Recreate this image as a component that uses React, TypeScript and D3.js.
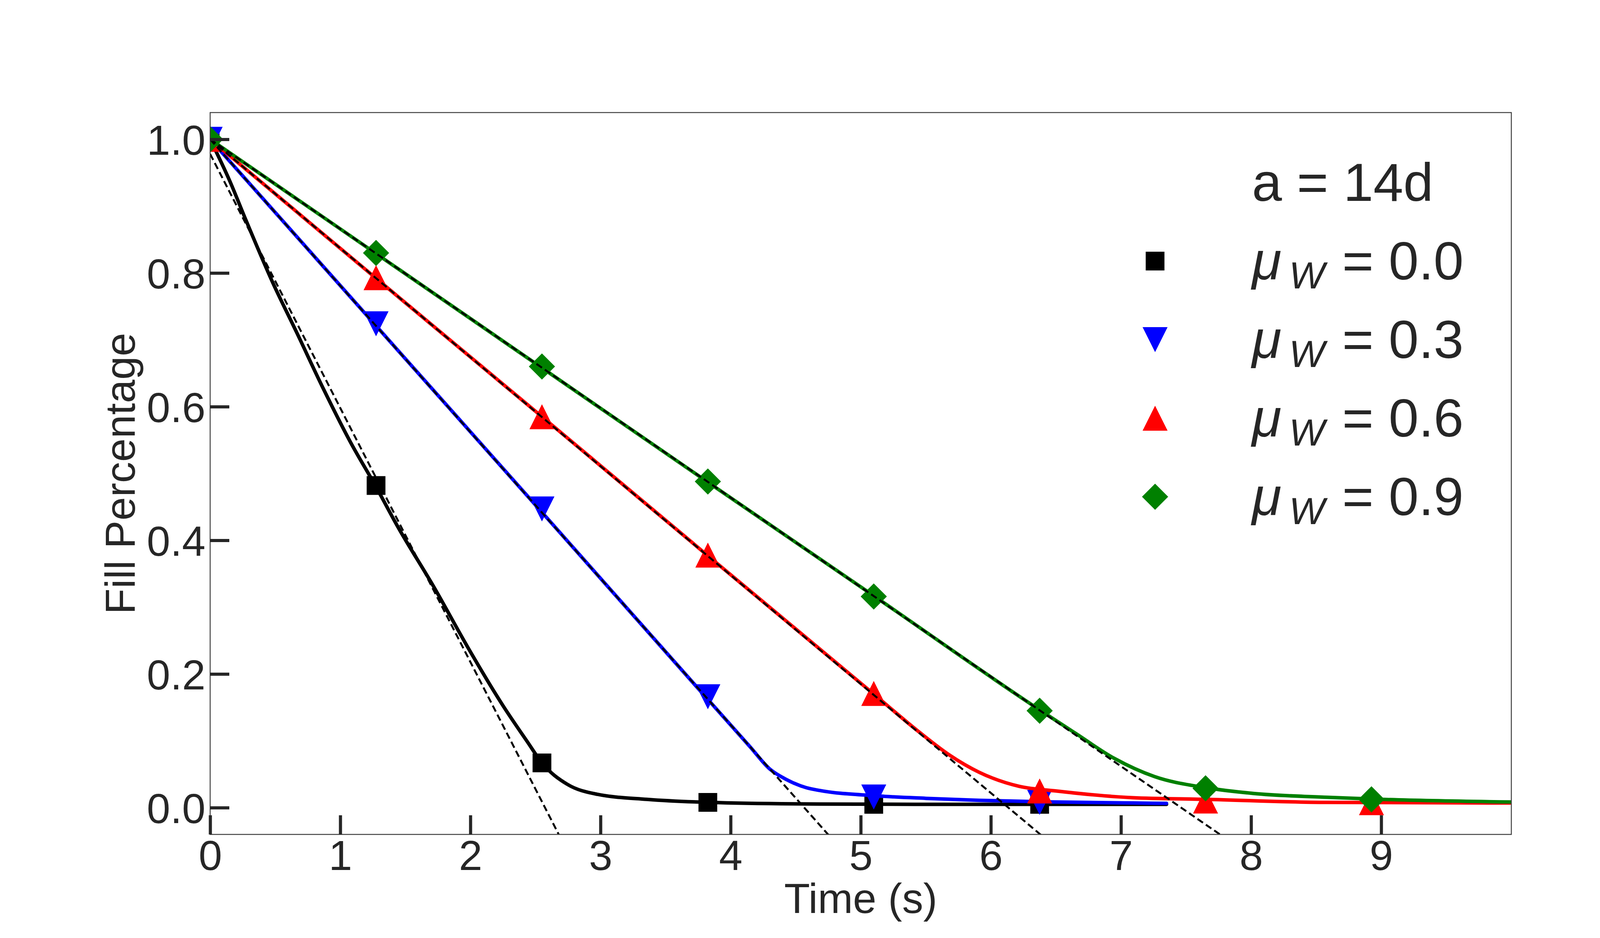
import React, { useEffect, useRef } from 'react'
import * as d3 from 'd3'

// 时间 (s) 与填充率
const blackT = [0, 0.15, 0.275, 0.48, 0.665, 0.872, 1.078, 1.275, 1.446, 1.72, 1.98, 2.256, 2.44, 2.55, 2.745, 2.977, 3.357, 3.83, 4.686, 5.5, 6.4, 7.35]
const blackV = [1.0, 0.938, 0.879, 0.786, 0.711, 0.626, 0.547, 0.48, 0.419, 0.33, 0.24, 0.151, 0.098, 0.067, 0.035, 0.02, 0.0125, 0.008, 0.0055, 0.005, 0.005, 0.005]

const blueT = [0, 1.275, 2.55, 3.825, 4.15, 4.3, 4.43, 4.58, 4.686, 5.1, 5.5, 5.91, 6.5, 7.09, 7.35]
const blueV = [1.0, 0.721, 0.442, 0.162, 0.091, 0.058, 0.042, 0.03, 0.0257, 0.018, 0.014, 0.011, 0.0085, 0.007, 0.0065]

const redT = [0, 1.275, 2.55, 3.825, 5.1, 5.45, 5.68, 5.91, 6.217, 6.5, 7.087, 7.65, 8.587, 10]
const redV = [1.0, 0.792, 0.585, 0.377, 0.17, 0.113, 0.079, 0.053, 0.032, 0.025, 0.015, 0.0125, 0.0079, 0.007]

const greenT = [0, 1.275, 2.55, 3.825, 5.1, 6.385, 6.645, 6.952, 7.258, 7.65, 8.02, 8.587, 9.0, 10]
const greenV = [1.0, 0.829, 0.658, 0.487, 0.317, 0.145, 0.112, 0.0734, 0.0465, 0.03, 0.0213, 0.0155, 0.0125, 0.0085]

// 标记点
const markerT = [0, 1.275, 2.55, 3.825, 5.1, 6.375, 7.65, 8.925]
const blackMarkers = [1.0, 0.482, 0.067, 0.008, 0.005, 0.005]
const blueMarkers = [1.0, 0.724, 0.447, 0.166, 0.016, 0.008]
const redMarkers = [1.0, 0.793, 0.585, 0.378, 0.171, 0.025, 0.01, 0.0075]
const greenMarkers = [1.0, 0.83, 0.66, 0.488, 0.316, 0.145, 0.029, 0.0125]

// 线性拟合（虚线）
const fitIntercept = [0.978, 1.0, 1.0, 1.0]
const fitSlope = [-0.38, -0.219, -0.163, -0.134]

const muLabels = ['0.0', '0.3', '0.6', '0.9']
const colors = ['#000000', '#0000ff', '#ff0000', '#008000']
const markerKinds = ['square', 'triDown', 'triUp', 'diamond']

const xTicks = [0, 1, 2, 3, 4, 5, 6, 7, 8, 9]
const yTicks = [0, 0.2, 0.4, 0.6, 0.8, 1.0]

const FONT = "'Liberation Sans', Arial, sans-serif"
const TEXT = '#262626'

const markerPath = (kind: string) => {
    if (kind === 'square') { const s = 48; return `M${-s / 2},${-s / 2}h${s}v${s}h${-s}Z` }
    if (kind === 'triDown') { const w = 64, h = 64; return `M0,${h / 2}L${-w / 2},${-h / 2}L${w / 2},${-h / 2}Z` }
    if (kind === 'triUp') { const w = 64, h = 64; return `M0,${-h / 2}L${-w / 2},${h / 2}L${w / 2},${h / 2}Z` }
    const d = 67
    return `M0,${-d / 2}L${d / 2},0L0,${d / 2}L${-d / 2},0Z`
}

const App = () => {
    const ref = useRef<SVGSVGElement>(null)

    useEffect(() => {
        document.body.style.margin = '0'
        const W = 4300, H = 2400
        const left = 538, right = 3869, top = 288, bottom = 2135

        const svg = d3.select(ref.current)
        svg.selectAll('*').remove()
        svg.attr('width', W).attr('height', H).style('background', '#ffffff')

        const x = d3.scaleLinear().domain([0, 10]).range([left, right])
        const y = d3.scaleLinear().domain([-0.04, 1.04]).range([bottom, top])

        svg.append('defs').append('clipPath').attr('id', 'plotClip')
            .append('rect').attr('x', left).attr('y', top).attr('width', right - left).attr('height', bottom - top)

        const plot = svg.append('g').attr('clip-path', 'url(#plotClip)')

        const seriesT = [blackT, blueT, redT, greenT]
        const seriesV = [blackV, blueV, redV, greenV]
        const seriesM = [blackMarkers, blueMarkers, redMarkers, greenMarkers]

        const line = d3.line<[number, number]>()
            .x(d => x(d[0]))
            .y(d => y(d[1]))
            .curve(d3.curveMonotoneX)

        // 实线 + 标记
        seriesT.forEach((ts, i) => {
            const pts: [number, number][] = ts.map((t, j) => [t, seriesV[i][j]])
            plot.append('path')
                .attr('d', line(pts) ?? '')
                .attr('fill', 'none')
                .attr('stroke', colors[i])
                .attr('stroke-width', 9)
                .attr('stroke-linejoin', 'round')
                .attr('stroke-linecap', 'round')

            plot.append('g').selectAll('path').data(seriesM[i]).enter().append('path')
                .attr('d', markerPath(markerKinds[i]))
                .attr('transform', (v, j) => `translate(${x(markerT[j])},${y(v)})`)
                .attr('fill', colors[i])
        })

        // 拟合虚线
        const straight = d3.line<[number, number]>().x(d => x(d[0])).y(d => y(d[1]))
        fitIntercept.forEach((b, i) => {
            const pts: [number, number][] = [[0, b], [10, b + fitSlope[i] * 10]]
            plot.append('path')
                .attr('d', straight(pts) ?? '')
                .attr('fill', 'none')
                .attr('stroke', '#000000')
                .attr('stroke-width', 5)
                .attr('stroke-dasharray', '17 9')
        })

        // 边框
        svg.append('rect')
            .attr('x', left).attr('y', top)
            .attr('width', right - left).attr('height', bottom - top)
            .attr('fill', 'none')
            .attr('stroke', '#404040')
            .attr('stroke-width', 2.5)

        // 坐标轴
        const xAxis = svg.append('g')
            .attr('transform', `translate(0,${bottom})`)
            .call(d3.axisBottom(x).tickValues(xTicks).tickFormat(d3.format('d')).tickSizeInner(-49).tickSizeOuter(0).tickPadding(14))
        const yAxis = svg.append('g')
            .attr('transform', `translate(${left},0)`)
            .call(d3.axisLeft(y).tickValues(yTicks).tickFormat(d3.format('.1f')).tickSizeInner(-49).tickSizeOuter(0).tickPadding(12))

        ;[xAxis, yAxis].forEach(g => {
            g.select('.domain').remove()
            g.selectAll('.tick line').attr('stroke', TEXT).attr('stroke-width', 8)
            g.selectAll('.tick text')
                .attr('fill', TEXT)
                .style('font-family', FONT)
                .style('font-size', '108px')
        })
        yAxis.selectAll('.tick text').attr('dy', '0.36em')

        svg.append('text')
            .attr('x', (left + right) / 2).attr('y', 2336)
            .attr('text-anchor', 'middle')
            .attr('fill', TEXT)
            .style('font-family', FONT).style('font-size', '108px')
            .text('Time (s)')

        svg.append('text')
            .attr('transform', `translate(345,${(top + bottom) / 2}) rotate(-90)`)
            .attr('text-anchor', 'middle')
            .attr('fill', TEXT)
            .style('font-family', FONT).style('font-size', '108px')
            .text('Fill Percentage')

        // 图例
        const legend = svg.append('g').style('font-family', FONT).attr('fill', TEXT)
        const legX = 3205, legY0 = 514, legStep = 201
        legend.append('text')
            .attr('x', legX).attr('y', legY0)
            .style('font-size', '138px')
            .text('a = 14d')

        muLabels.forEach((lab, i) => {
            const by = legY0 + legStep * (i + 1)
            legend.append('path')
                .attr('d', markerPath(markerKinds[i]))
                .attr('transform', `translate(2957,${by - 47})`)
                .attr('fill', colors[i])
            legend.append('text')
                .attr('x', legX).attr('y', by)
                .style('font-size', '138px').style('font-style', 'italic')
                .text('μ')
            legend.append('text')
                .attr('x', legX + 95).attr('y', by + 23)
                .style('font-size', '97px').style('font-style', 'italic')
                .text('W')
            legend.append('text')
                .attr('x', 3436).attr('y', by)
                .style('font-size', '138px')
                .text('= ' + lab)
        })
    }, [])

    return (<>
        <svg ref={ref} style={{ display: 'block' }}></svg>
    </>)
}

export default App
